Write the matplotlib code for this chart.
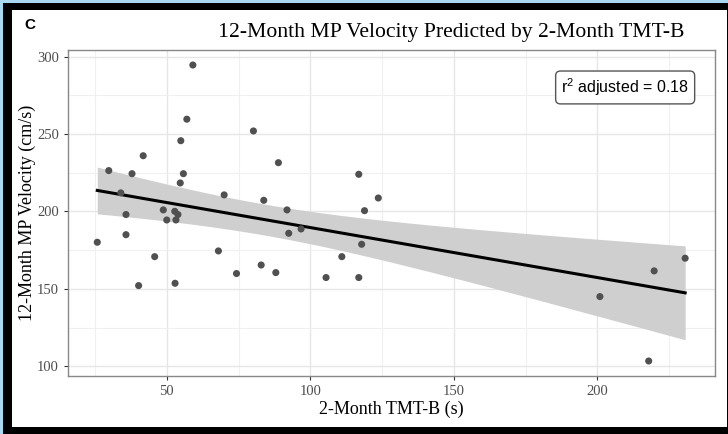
import numpy as np
import matplotlib
matplotlib.use("Agg")
import matplotlib.pyplot as plt
from matplotlib.patches import Rectangle

# 2-month TMT-B (s) vs 12-month MP velocity (cm/s)
tmt_b = [59.1, 57.0, 54.9, 41.8, 29.8, 37.9, 55.8, 54.7, 34.0, 70.0,
         48.8, 52.8, 53.9, 35.8, 50.0, 53.2, 25.8, 35.8, 45.8, 40.2,
         52.9, 68.0, 74.3, 80.2, 88.9, 116.9, 123.7, 83.8, 91.9, 118.9,
         92.5, 96.8, 82.9, 88.0, 105.5, 116.9, 111.0, 117.9, 230.6, 219.8,
         200.9, 217.9]
velocity = [294.6, 259.6, 245.7, 236.0, 226.4, 224.4, 224.4, 218.4, 212.0, 210.7,
            201.0, 200.1, 198.0, 198.0, 194.5, 194.5, 180.1, 185.0, 170.8, 152.1,
            153.6, 174.5, 159.9, 252.0, 231.5, 224.0, 208.7, 207.2, 201.0, 200.5,
            185.9, 188.7, 165.4, 160.5, 157.3, 157.3, 170.8, 178.8, 169.8, 161.6,
            145.0, 103.4]

x_ticks = [50, 100, 150, 200]
y_ticks = [100, 150, 200, 250, 300]
r2_label = "r$^2$ adjusted = 0.18"

x = np.array(tmt_b)
y = np.array(velocity)

# linear fit + 95% confidence band (like geom_smooth(method = "lm"))
n = len(x)
b1, b0 = np.polyfit(x, y, 1)
resid = y - (b0 + b1 * x)
s = np.sqrt(np.sum(resid ** 2) / (n - 2))
xs = np.linspace(x.min(), x.max(), 200)
ys = b0 + b1 * xs
se = s * np.sqrt(1 / n + (xs - x.mean()) ** 2 / np.sum((x - x.mean()) ** 2))
t_crit = 2.021
lo = ys - t_crit * se
hi = ys + t_crit * se

W, H = 728, 434
fig = plt.figure(figsize=(W / 100, H / 100), dpi=100)
fig.patch.set_facecolor("#a9d9f2")

# outer frame of the screenshot
fig.patches.append(Rectangle((3 / W, 0), 1, 1 - 3 / H, transform=fig.transFigure,
                             facecolor="black", edgecolor="none", zorder=-3))
fig.patches.append(Rectangle((12 / W, 7 / H), (727 - 12) / W, (427 - 10) / H,
                             transform=fig.transFigure, facecolor="white",
                             edgecolor="none", zorder=-2))

ax = fig.add_axes([68 / W, (H - 376) / H, (715 - 68) / W, (376 - 50) / H])

ax.fill_between(xs, lo, hi, color="#cfcfcf", lw=0, zorder=2)
ax.plot(xs, ys, color="black", lw=2.2, zorder=3)
ax.scatter(x, y, s=26, color="#505050", edgecolors="none", zorder=4)

ax.set_xlim(15.6, 241)
ax.set_ylim(93.7, 304.3)
ax.set_xticks(x_ticks)
ax.set_yticks(y_ticks)
ax.set_xticks([25, 75, 125, 175, 225], minor=True)
ax.set_yticks([125, 175, 225, 275], minor=True)
ax.grid(True, which="major", color="#e6e6e6", lw=1.0, zorder=0)
ax.grid(True, which="minor", color="#f0f0f0", lw=0.8, zorder=0)
ax.set_axisbelow(True)
ax.tick_params(which="minor", length=0)
ax.tick_params(which="major", length=3, color="#333333", width=0.8,
               labelsize=10.5, labelcolor="#4d4d4d")
for lab in ax.get_xticklabels() + ax.get_yticklabels():
    lab.set_family("Liberation Serif")
for sp in ax.spines.values():
    sp.set_color("#888888")
    sp.set_linewidth(1.0)

ax.set_xlabel("2-Month TMT-B (s)", family="Liberation Serif", fontsize=13, labelpad=2)
ax.set_ylabel("12-Month MP Velocity (cm/s)", family="Liberation Serif", fontsize=13)
ax.yaxis.set_label_coords(-(68 - 36) / (715 - 68), 0.5)

fig.text(218 / W, 1 - 33 / H, "12-Month MP Velocity Predicted by 2-Month TMT-B",
         family="Liberation Serif", fontsize=15.6, va="center", ha="left")
fig.text(24 / W, 1 - 25 / H, "C", family="Liberation Sans", fontweight="bold",
         fontsize=11, va="center", ha="left")

plt.rcParams["mathtext.fontset"] = "custom"
plt.rcParams["mathtext.rm"] = "Liberation Sans"
ax.text(209.7, 280.1, r2_label, family="Liberation Sans", fontsize=11.5,
        ha="center", va="center", zorder=5,
        bbox=dict(boxstyle="round,pad=0.35,rounding_size=0.3", fc="white",
                  ec="#555555", lw=1.0))

fig.savefig("out.png", dpi=100)
